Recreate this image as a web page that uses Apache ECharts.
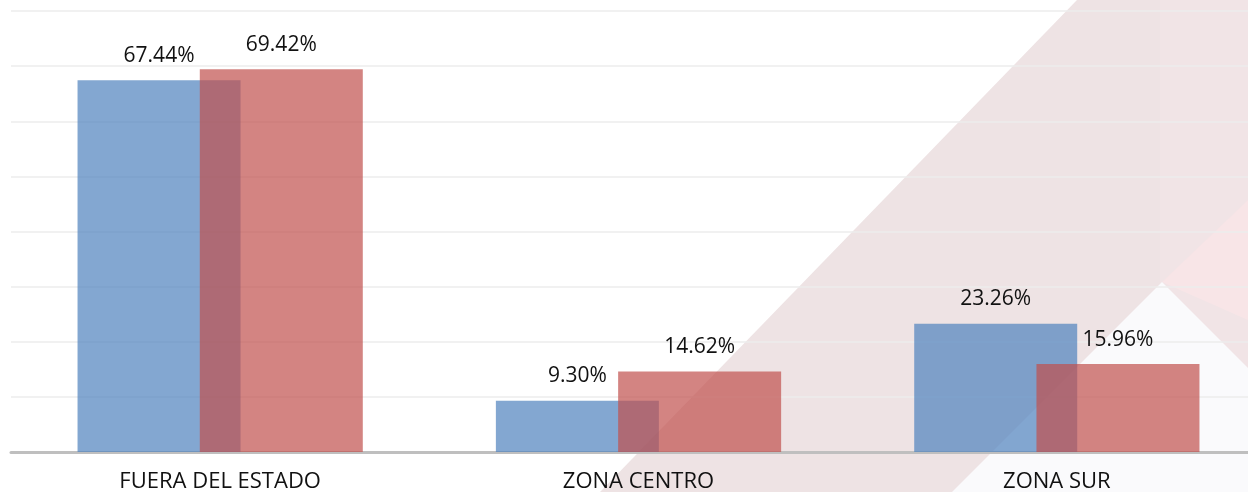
<!DOCTYPE html>
<html>
<head>
<meta charset="utf-8">
<script src="https://cdn.jsdelivr.net/npm/echarts@6/dist/echarts.min.js"></script>
<style>
  html, body { margin: 0; padding: 0; background: #fff; }
  #chart { width: 1248px; height: 492px; }
</style>
</head>
<body>
<div id="chart"></div>
<script>
// categorias y porcentajes
var categorias = ['FUERA DEL ESTADO', 'ZONA CENTRO', 'ZONA SUR']
var serieAzul = [67.44, 9.30, 23.26]
var serieRoja = [69.42, 14.62, 15.96]
var ejeMax = 80
var ejeIntervalo = 10

var myChart = echarts.init(document.getElementById('chart'))

var etiqueta = {
  show: true,
  position: 'top',
  distance: 14,
  color: '#111',
  fontSize: 21,
  fontFamily: 'Open Sans',
  formatter: function (p) {
    return p.value.toFixed(2) + '%'
  }
}

var option = {
  animation: false,
  // fondo decorativo (marca de agua)
  graphic: [
    {
      type: 'polygon', z: -10, silent: true,
      shape: { points: [[600, 492], [1077, 0], [1248, 0], [1248, 492]] },
      style: { fill: '#eee3e4' }
    },
    {
      type: 'polygon', z: -9, silent: true,
      shape: { points: [[1160, 0], [1248, 0], [1248, 492], [1160, 492]] },
      style: { fill: '#f1e4e6' }
    },
    {
      type: 'polygon', z: -8, silent: true,
      shape: { points: [[1162, 282], [1248, 200], [1248, 320]] },
      style: { fill: '#f8e5e7' }
    },
    {
      type: 'polygon', z: -7, silent: true,
      shape: { points: [[1162, 282], [952, 492], [1372, 492]] },
      style: { fill: '#fafafc' }
    }
  ],
  grid: {
    left: 11,
    top: 11,
    width: 1255,
    bottom: 40,
    outerBoundsMode: 'none',
    containLabel: false
  },
  xAxis: {
    type: 'category',
    data: categorias,
    axisTick: { show: false },
    axisLine: {
      show: true,
      lineStyle: { color: '#bfbfbf', width: 3 }
    },
    axisLabel: {
      interval: 0,
      margin: 19,
      color: '#111',
      fontSize: 22,
      fontFamily: 'Open Sans'
    }
  },
  yAxis: {
    type: 'value',
    min: 0,
    max: ejeMax,
    interval: ejeIntervalo,
    axisLine: { show: false },
    axisTick: { show: false },
    axisLabel: { show: false },
    splitLine: {
      show: true,
      lineStyle: { color: '#ececec', width: 1.5 }
    }
  },
  series: [
    {
      name: 'azul',
      type: 'bar',
      data: serieAzul,
      barWidth: 163,
      barGap: '-25%',
      itemStyle: { color: 'rgba(79, 129, 189, 0.7)' },
      label: etiqueta
    },
    {
      name: 'rojo',
      type: 'bar',
      data: serieRoja,
      barWidth: 163,
      barGap: '-25%',
      itemStyle: { color: 'rgba(192, 80, 77, 0.7)' },
      label: etiqueta
    }
  ]
}

myChart.setOption(option)
</script>
</body>
</html>
